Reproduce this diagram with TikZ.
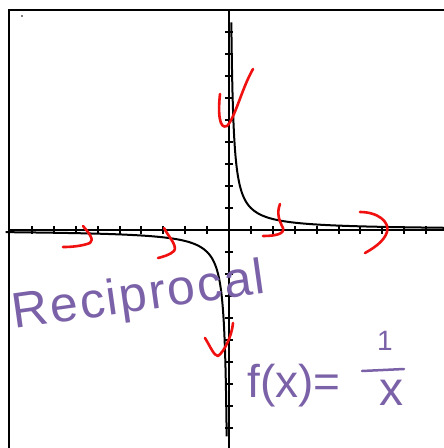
\documentclass[tikz,border=0pt]{standalone}
\usepackage{fontspec}
\setmainfont{Liberation Sans}
\definecolor{inkred}{HTML}{F01010}
\definecolor{inkpurple}{HTML}{7B62A8}
\tikzset{
  frameline/.style={line width=2pt, black},
  axisline/.style={line width=2pt, black},
  tickline/.style={line width=2pt, black},
  curveline/.style={line width=2pt, black},
  redmark/.style={line width=2.6pt, inkred, line cap=round, line join=round},
  purpletext/.style={inkpurple, inner sep=0pt},
}
\begin{document}
\begin{tikzpicture}[x=1pt,y=-1pt]
\useasboundingbox (0,0) rectangle (444,448);
\fill[white] (0,0) rectangle (444,448);
% frame
\draw[frameline] (9,448) -- (9,10) -- (444,10);
\fill (22,16) circle (0.9);
% axes
\draw[axisline] (9,230) -- (444,230);
\draw[axisline] (229,10) -- (229,448);
\foreach \k in {-9,...,-1,1,2,...,9} {
  \draw[tickline] ({229+21.9*\k},226) -- ({229+21.9*\k},234);
  \draw[tickline] (225,{230+22*\k}) -- (233,{230+22*\k});
}
% curve y = 1/x
\draw[curveline] plot[domain=0.106:1, samples=120, smooth] ({229+21.9*\x},{230-22/\x})
  -- plot[domain=1:10.2, samples=60, smooth] ({229+21.9*\x},{230-22/\x});
\draw[curveline] plot[domain=-10.2:-1, samples=60, smooth] ({229+21.9*\x},{230-22/\x})
  -- plot[domain=-1:-0.105, samples=120, smooth] ({229+21.9*\x},{230-22/\x});
% red marks
\draw[redmark] (220,94) .. controls (218,112) and (219,130) .. (227,126) .. controls (235,118) and (242,88) .. (253,69);
\draw[redmark] (83,226) .. controls (88,232) and (95,240) .. (90,243) .. controls (82,246) and (72,247) .. (63,247);
\draw[redmark] (164,228) .. controls (168,236) and (178,246) .. (174,251) .. controls (170,255) and (162,257) .. (158,258);
\draw[redmark] (280,204) .. controls (276,214) and (280,222) .. (283,228) .. controls (285,234) and (275,236) .. (263,236);
\draw[redmark] (360,212) .. controls (378,212) and (390,222) .. (387,232) .. controls (384,242) and (372,249) .. (365,253);
\draw[redmark] (205,338) .. controls (210,346) and (214,356) .. (218,356) .. controls (224,352) and (232,336) .. (233,323);
% purple handwriting
\node[purpletext, rotate=8, font=\fontsize{50}{56}\selectfont\addfontfeatures{LetterSpace=4}] (recip) at (139,298) {Reciprocal};
\node[purpletext, font=\fontsize{46}{52}\selectfont] (fx) at (294,386) {f(x)=};
\node[purpletext, font=\fontsize{28}{32}\selectfont] (one) at (385,341) {1};
\coordinate (barL) at (362,371);
\coordinate (barR) at (404,369);
\draw[inkpurple, line width=2.5pt, line cap=round] (barL) -- (barR);
\node[purpletext, font=\fontsize{48}{54}\selectfont] (ex) at (391,393) {x};
\end{tikzpicture}
\end{document}
